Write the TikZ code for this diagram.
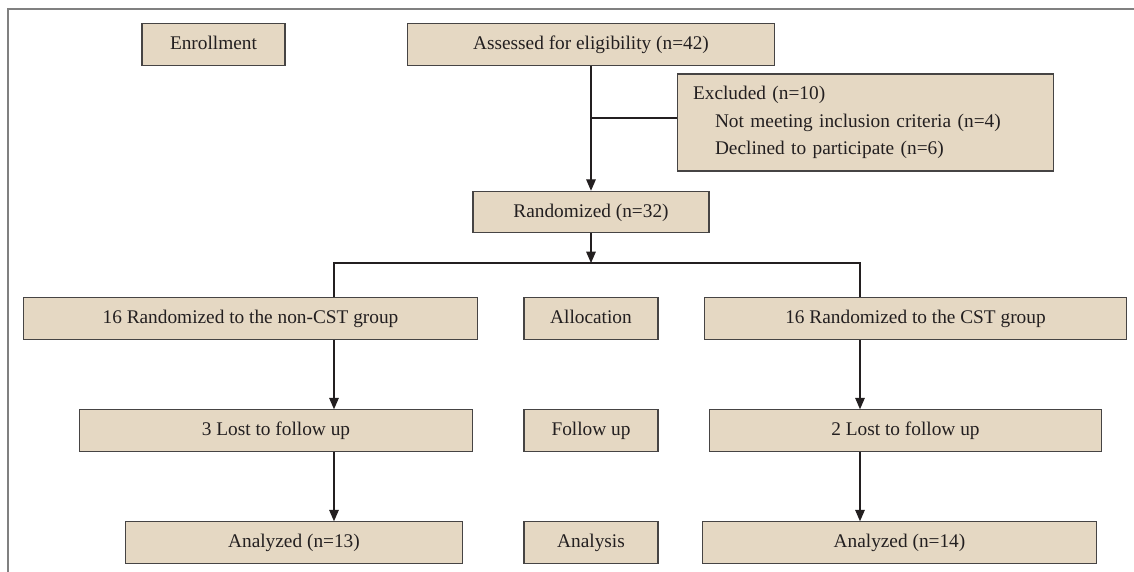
\documentclass[tikz,border=0pt]{standalone}
\usepackage{fontspec}
\setmainfont{Liberation Serif}
\usetikzlibrary{arrows.meta,positioning,calc}
\definecolor{boxfill}{RGB}{229,216,195}
\definecolor{boxline}{RGB}{70,68,68}
\definecolor{frameg}{RGB}{128,128,128}
\definecolor{txt}{RGB}{35,31,32}

\tikzset{
  box/.style={draw=boxline, fill=boxfill, line width=0.6pt, minimum height=0.83cm,
    inner sep=0pt, text=txt, font=\fontsize{11}{13}\selectfont},
  lbl/.style={box, text height=1.6ex, text depth=0.25ex},
  link/.style={draw=txt, line width=0.6pt},
  arr/.style={link, -{Triangle[length=6.5pt,width=5.5pt]}}
}

\begin{document}
\begin{tikzpicture}[x=0.02cm, y=-0.02cm]
        \useasboundingbox (0,0) rectangle (1134,572);
        % --- outer frame (top and left only)
        \draw[frameg, line width=0.9pt] (8,572) -- (8,9) -- (1134,9);

        % --- enrollment
        \node[lbl, minimum width=2.86cm] (enroll) at (213.5,44.5) {Enrollment};
        \node[lbl, minimum width=7.36cm] (assess) at (591,44.5) {Assessed for eligibility (n=42)};
        \node[box, minimum width=7.54cm, minimum height=1.94cm, align=left, text width=6.9cm,
              inner xsep=0.32cm] (excl) at (865.5,122.5)
          {Excluded (n=10)\\[2.6pt]
           \hspace*{0.44cm}Not meeting inclusion criteria (n=4)\\[2.6pt]
           \hspace*{0.44cm}Declined to participate (n=6)};
        \node[lbl, minimum width=4.72cm] (rand) at (591,212) {Randomized (n=32)};

        % --- allocation
        \node[lbl, minimum width=9.1cm] (grpA) at (250.5,318.5) {16 Randomized to the non-CST group};
        \node[lbl, minimum width=2.68cm] (alloc) at (591,318.5) {Allocation};
        \node[lbl, minimum width=8.46cm] (grpB) at (915.5,318.5) {16 Randomized to the CST group};

        % --- follow up
        \node[lbl, minimum width=7.88cm] (lostA) at (276,430.5) {3 Lost to follow up};
        \node[lbl, minimum width=2.68cm] (follow) at (591,430.5) {Follow up};
        \node[lbl, minimum width=7.86cm] (lostB) at (905.5,430.5) {2 Lost to follow up};

        % --- analysis
        \node[lbl, minimum width=6.76cm] (anaA) at (294,542.5) {Analyzed (n=13)};
        \node[lbl, minimum width=2.68cm] (analysis) at (591,542.5) {Analysis};
        \node[lbl, minimum width=7.9cm] (anaB) at (899.5,542.5) {Analyzed (n=14)};

        % --- connectors
        \draw[arr] (assess) -- (rand);
        \draw[link] ([yshift=0.09cm]excl.west) -- ([yshift=0.09cm]excl.west -| assess.south);
        \coordinate (split) at (591,263);
        \coordinate (jl) at (334,263);
        \coordinate (jr) at (860,263);
        \draw[arr] (rand) -- (split);
        \draw[link] (jl |- grpA.north) -- (jl) -- (jr) -- (jr |- grpB.north);
        \draw[arr] (jl |- grpA.south) -- (jl |- lostA.north);
        \draw[arr] (jl |- lostA.south) -- (jl |- anaA.north);
        \draw[arr] (jr |- grpB.south) -- (jr |- lostB.north);
        \draw[arr] (jr |- lostB.south) -- (jr |- anaB.north);
      \end{tikzpicture}
\end{document}
